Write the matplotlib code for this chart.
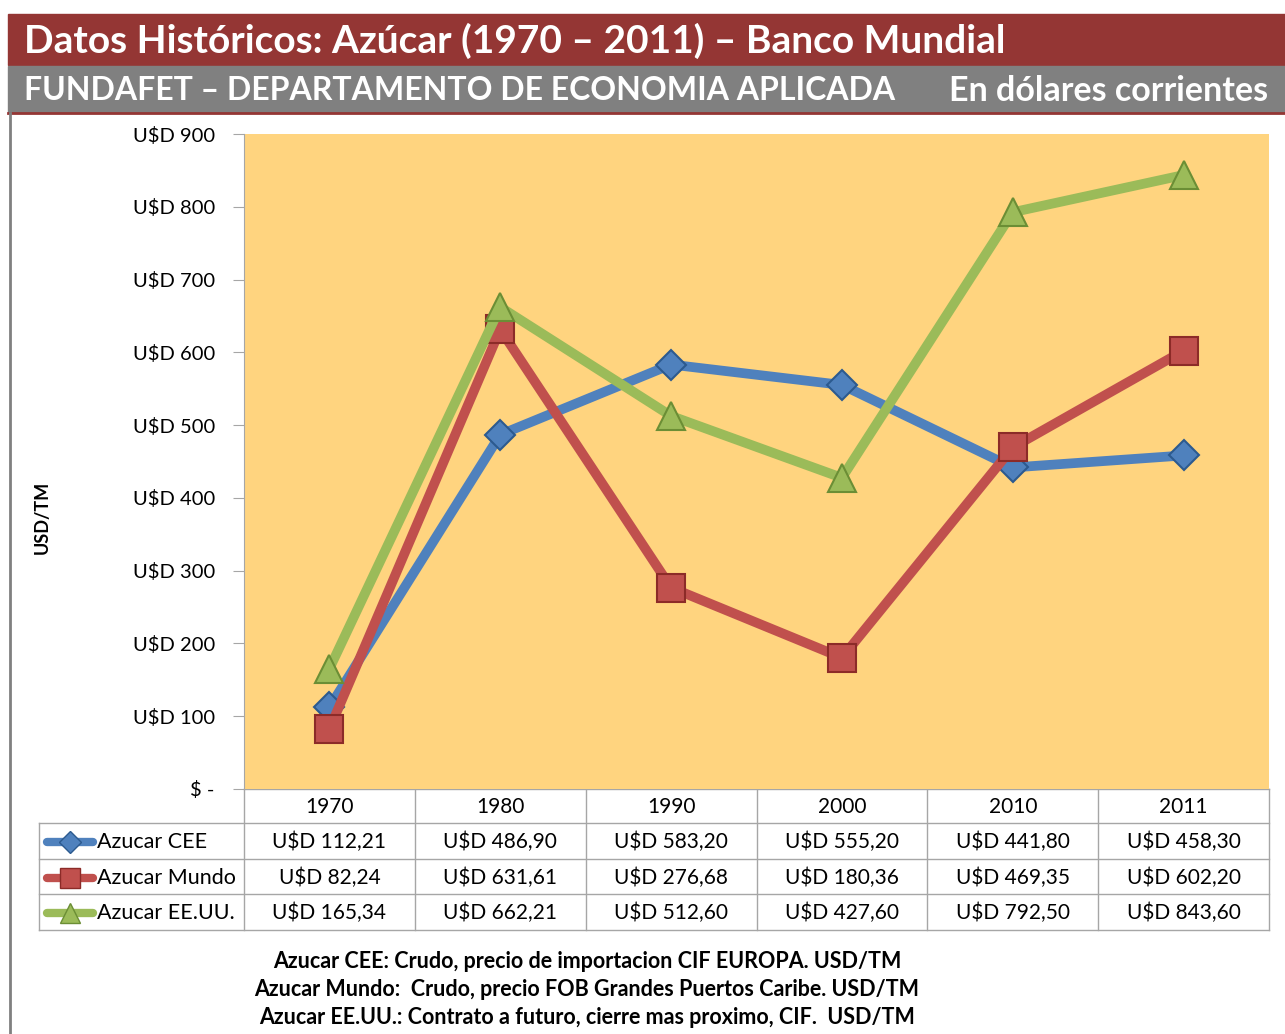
import matplotlib.pyplot as plt
from matplotlib.patches import Rectangle

plt.rcParams['font.family'] = ['Lato', 'DejaVu Sans']

# -------------------------
# Data
# -------------------------
years = ["1970", "1980", "1990", "2000", "2010", "2011"]
cee = [112.21, 486.90, 583.20, 555.20, 441.80, 458.30]
mundo = [82.24, 631.61, 276.68, 180.36, 469.35, 602.20]
eeuu = [165.34, 662.21, 512.60, 427.60, 792.50, 843.60]
series_names = ["Azucar CEE", "Azucar Mundo", "Azucar EE.UU."]
yticks = [0, 100, 200, 300, 400, 500, 600, 700, 800, 900]
notes = [
    "Azucar CEE: Crudo, precio de importacion CIF EUROPA. USD/TM",
    "Azucar Mundo:  Crudo, precio FOB Grandes Puertos Caribe. USD/TM",
    "Azucar EE.UU.: Contrato a futuro, cierre mas proximo, CIF.  USD/TM",
]

colors = ["#4F81BD", "#C0504D", "#9BBB59"]
edges = ["#2C5A8F", "#8C2B28", "#6B8E35"]
markers = ["D", "s", "^"]
msizes = [15, 20, 20]

W, H = 1285, 1034
fig = plt.figure(figsize=(W / 100, H / 100), dpi=100)

# background axes in pixel coordinates
bg = fig.add_axes([0, 0, 1, 1])
bg.set_xlim(0, W)
bg.set_ylim(H, 0)
bg.axis("off")

# header bars
bg.add_patch(Rectangle((8, 14), W - 8, 51, color="#943634"))
bg.add_patch(Rectangle((8, 66), W - 8, 46, color="#808080"))
bg.plot([8, W], [112.5, 112.5], color="#943634", lw=2)
bg.plot([10, 10], [113, H], color="#808080", lw=2)
bg.text(24, 41, "Datos Históricos: Azúcar (1970 – 2011) – Banco Mundial",
        color="white", fontsize=28, fontweight="bold", va="center", ha="left")
bg.text(24, 91, "FUNDAFET – DEPARTAMENTO DE ECONOMIA APLICADA",
        color="white", fontsize=23, fontweight="bold", va="center", ha="left")
bg.text(1268, 91, "En dólares corrientes",
        color="white", fontsize=24.5, fontweight="bold", va="center", ha="right")

# -------------------------
# Plot area
# -------------------------
x0, x1, ytop, ybot = 244, 1269, 134, 789
ax = fig.add_axes([x0 / W, 1 - ybot / H, (x1 - x0) / W, (ybot - ytop) / H])
ax.set_facecolor("#FFD47F")
ax.set_xlim(-0.5, len(years) - 0.5)
ax.set_ylim(0, 900)
for s in ["top", "right", "bottom"]:
    ax.spines[s].set_visible(False)
ax.spines["left"].set_color("#A6A6A6")
ax.set_xticks([])
ax.set_yticks(yticks)
ax.set_yticklabels([r"\$ -" if v == 0 else r"U\$D %d" % v for v in yticks],
                   fontsize=14.5)
ax.tick_params(axis="y", length=8, color="#A6A6A6", pad=13)

xs = list(range(len(years)))
for vals, c, ec, m, ms in zip([cee, mundo, eeuu], colors, edges, markers, msizes):
    ax.plot(xs, vals, color=c, lw=7, marker=m, markersize=ms,
            markerfacecolor=c, markeredgecolor=ec, markeredgewidth=1.5,
            solid_capstyle="round", clip_on=False)

bg.text(42, 517, "USD/TM", rotation=90, fontsize=13, fontweight="bold",
        va="center", ha="center")

# -------------------------
# Data table
# -------------------------
grid = "#A6A6A6"
col_w = (x1 - x0) / len(years)
row_y = [789, 823, 859, 894, 930]
bg.plot([x0, x1], [row_y[0], row_y[0]], color=grid, lw=1)
for y in row_y[1:]:
    bg.plot([39, x1], [y, y], color=grid, lw=1)
for i in range(len(years) + 1):
    bg.plot([x0 + i * col_w] * 2, [row_y[0], row_y[-1]], color=grid, lw=1)
bg.plot([39, 39], [row_y[1], row_y[-1]], color=grid, lw=1)

for i, yr in enumerate(years):
    bg.text(x0 + (i + 0.5) * col_w, (row_y[0] + row_y[1]) / 2 + 1, yr,
            fontsize=15, ha="center", va="center")

for r, (vals, name) in enumerate(zip([cee, mundo, eeuu], series_names)):
    yc = (row_y[r + 1] + row_y[r + 2]) / 2 + 1
    bg.plot([47, 93], [yc, yc], color=colors[r], lw=6, solid_capstyle="round")
    bg.plot([70], [yc], marker=markers[r], markersize=msizes[r] * 0.75,
            color=colors[r], markeredgecolor=edges[r])
    bg.text(97, yc, name, fontsize=15.5, ha="left", va="center")
    for i, v in enumerate(vals):
        label = r"U\$D " + f"{v:.2f}".replace(".", ",")
        bg.text(x0 + (i + 0.5) * col_w, yc, label, fontsize=15,
                ha="center", va="center")

# -------------------------
# Notes
# -------------------------
for k, note in enumerate(notes):
    bg.text(587, 961 + k * 28, note, fontsize=15.5, fontweight="bold",
            ha="center", va="center")

fig.savefig("out.png", dpi=100)
